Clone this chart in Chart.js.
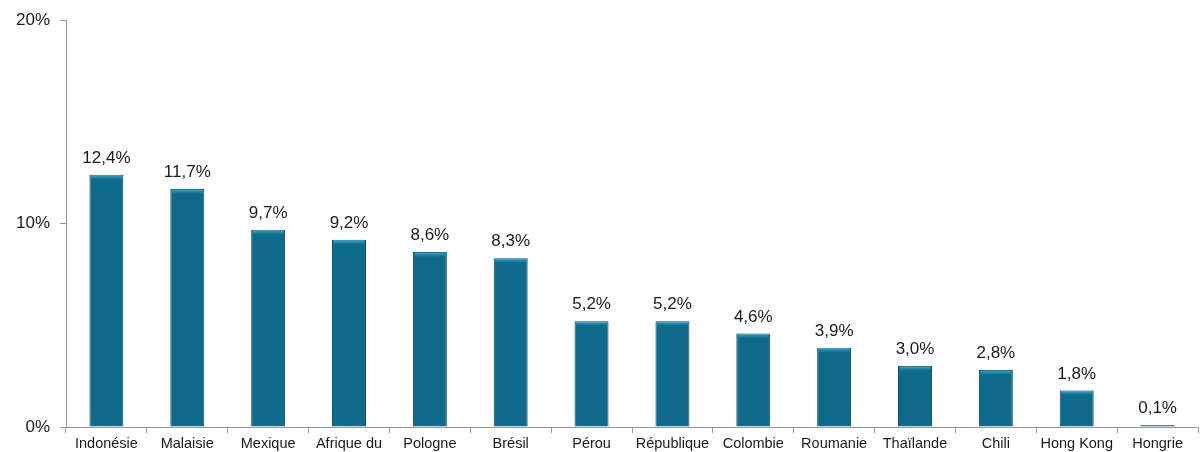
<!DOCTYPE html>
<html><head><meta charset="utf-8">
<script src="https://cdn.jsdelivr.net/npm/chart.js@4/dist/chart.umd.min.js"></script>
<style>html,body{margin:0;padding:0;background:#fff}#w{width:1201px;height:452px}</style>
</head><body><div id="w"><canvas id="c"></canvas></div>
<script>
const categories = ["Indonésie","Malaisie","Mexique","Afrique du","Pologne","Brésil","Pérou","République","Colombie","Roumanie","Thaïlande","Chili","Hong Kong","Hongrie"];
const values = [12.4,11.7,9.7,9.2,8.6,8.3,5.2,5.2,4.6,3.9,3.0,2.8,1.8,0.1];
const yTicks = [0,10,20];

const fmt = v => v.toFixed(1).replace('.', ',') + '%';

const barStyle = {
  id: 'barStyle',
  afterDatasetsDraw(chart) {
    const ctx = chart.ctx;
    const meta = chart.getDatasetMeta(0);
    ctx.save();
    meta.data.forEach((bar, i) => {
      const w = bar.width, x0 = bar.x - w/2, top = bar.y, base = bar.base;
      const h = Math.min(5, base - top);
      if (h > 0) {
        const g = ctx.createLinearGradient(0, top, 0, top + h);
        g.addColorStop(0, '#4fb3d6');
        g.addColorStop(1, 'rgba(40,150,190,0)');
        ctx.fillStyle = g;
        ctx.fillRect(x0 + 1.5, top + 0.5, w - 3, h);
      }
      ctx.fillStyle = '#1a1a1a';
      ctx.font = '17px "Liberation Sans", Arial, sans-serif';
      ctx.textAlign = 'center';
      ctx.textBaseline = 'bottom';
      ctx.fillText(fmt(values[i]), bar.x, top - 8);
    });
    ctx.restore();
  }
};

new Chart(document.getElementById('c'), {
  type: 'bar',
  data: {
    labels: categories,
    datasets: [{
      data: values,
      backgroundColor: (c) => {
        const ch = c.chart, el = c.element;
        if (!el || !Number.isFinite(el.x) || !Number.isFinite(el.width)) return '#0e6a88';
        const w = el.width;
        const g = ch.ctx.createLinearGradient(el.x - w/2, 0, el.x + w/2, 0);
        g.addColorStop(0, '#0a5670');
        g.addColorStop(0.2, '#0e6a88');
        g.addColorStop(0.8, '#0e6a88');
        g.addColorStop(1, '#0a5670');
        return g;
      },
      borderColor: '#0a4c62',
      borderWidth: 1,
      categoryPercentage: 1,
      barPercentage: 0.42
    }]
  },
  options: {
    responsive: true,
    maintainAspectRatio: false,
    animation: false,
    layout: { padding: { top: 20, right: 3, left: 0, bottom: 0 } },
    plugins: { legend: { display: false }, tooltip: { enabled: false } },
    scales: {
      x: {
        grid: { drawOnChartArea: false, drawTicks: true, tickLength: 6, color: '#999', offset: true },
        border: { color: '#999' },
        ticks: { color: '#1a1a1a', font: { family: '"Liberation Sans", Arial, sans-serif', size: 14.5 }, padding: 2, maxRotation: 0, autoSkip: false },
        afterFit(s) { s.height = 25; }
      },
      y: {
        min: 0, max: 20,
        afterBuildTicks(s) { s.ticks = yTicks.map(v => ({ value: v })); },
        grid: { drawOnChartArea: false, drawTicks: true, tickLength: 6, color: '#999' },
        border: { color: '#999' },
        ticks: { color: '#1a1a1a', font: { family: '"Liberation Sans", Arial, sans-serif', size: 17 }, padding: 10, callback: v => v + '%' },
        afterFit(s) { s.width = 66; }
      }
    }
  },
  plugins: [barStyle]
});
</script>
</body></html>
